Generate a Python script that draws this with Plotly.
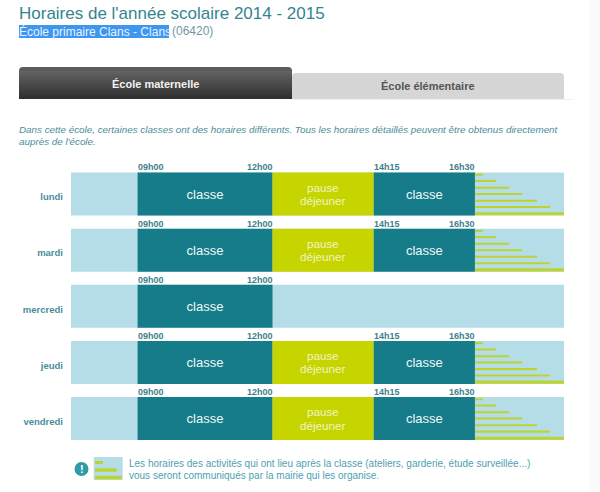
import plotly.graph_objects as go

# ---- data ----
days = ["lundi", "mardi", "mercredi", "jeudi", "vendredi"]
row_index = [0, 1, 2, 3, 4]
day_open = [7.52, 7.52, 7.52, 7.52, 7.52]
day_close = [18.48, 18.48, 18.48, 18.48, 18.48]
morning_start = [9.0, 9.0, 9.0, 9.0, 9.0]
morning_end = [12.0, 12.0, 12.0, 12.0, 12.0]
full_days = [0, 1, 3, 4]
lunch_start = [12.0, 12.0, 12.0, 12.0]
lunch_end = [14.25, 14.25, 14.25, 14.25]
afternoon_start = [14.25, 14.25, 14.25, 14.25]
afternoon_end = [16.5, 16.5, 16.5, 16.5]
step_offsets = [-0.344, -0.232, -0.112, 0.0, 0.119, 0.232, 0.351]
step_hours = [0.18, 0.47, 0.76, 1.05, 1.38, 1.67, 1.98]
time_labels_morning = ["09h00", "12h00"]
time_labels_afternoon = ["14h15", "16h30"]
class_label = "classe"
lunch_lines = ["pause", "déjeuner"]
title_text = "Horaires de l'année scolaire 2014 - 2015"
school_text = "École primaire Clans - Clans"
code_text = "(06420)"
tab_labels = ["École maternelle", "École élémentaire"]
intro_lines = ["Dans cette école, certaines classes ont des horaires différents. Tous les horaires détaillés peuvent être obtenus directement",
               "auprès de l'école."]
note_lines = ["Les horaires des activités qui ont lieu après la classe (ateliers, garderie, étude surveillée...)",
              "vous seront communiqués par la mairie qui les organise."]

W, H = 600, 492
FONT = "Liberation Sans, Arial, sans-serif"
LIGHT, TEAL, LIME = "#b5dde8", "#177c8a", "#c6d400"
STEP = "#bcd334"
BAR_W = 0.766

def px(x): return x / W
def py(y): return 1 - y / H

fig = go.Figure()
fig.add_trace(go.Bar(y=row_index, base=day_open, x=[c - o for c, o in zip(day_close, day_open)],
                     orientation="h", width=BAR_W, marker=dict(color=LIGHT, line_width=0), hoverinfo="skip"))
fig.add_trace(go.Bar(y=row_index, base=morning_start, x=[e - s for s, e in zip(morning_start, morning_end)],
                     orientation="h", width=BAR_W, marker=dict(color=TEAL, line_width=0),
                     text=[class_label] * 5, textposition="inside", insidetextanchor="middle", textangle=0,
                     textfont=dict(family=FONT, size=13, color="#eef7f8"), hoverinfo="skip"))
fig.add_trace(go.Bar(y=full_days, base=lunch_start, x=[e - s for s, e in zip(lunch_start, lunch_end)],
                     orientation="h", width=BAR_W, marker=dict(color=LIME, line_width=0), hoverinfo="skip"))
fig.add_trace(go.Bar(y=full_days, base=afternoon_start, x=[e - s for s, e in zip(afternoon_start, afternoon_end)],
                     orientation="h", width=BAR_W, marker=dict(color=TEAL, line_width=0),
                     text=[class_label] * 4, textposition="inside", insidetextanchor="middle", textangle=0,
                     textfont=dict(family=FONT, size=13, color="#eef7f8"), hoverinfo="skip"))
for k, (off, hrs) in enumerate(zip(step_offsets, step_hours)):
    fig.add_trace(go.Bar(y=[d + off for d in full_days], base=afternoon_end, x=[hrs] * 4,
                         orientation="h", width=0.055 if k == 6 else 0.036,
                         marker=dict(color=STEP, line_width=0), hoverinfo="skip"))

ann = []
def text(x, y, s, size=10, color="#555", anchor="left", **kw):
    ann.append(dict(x=px(x), y=py(y), xref="paper", yref="paper", text=s, showarrow=False, xanchor=anchor,
                    yanchor="middle", borderpad=0, borderwidth=0, align=anchor,
                    font=dict(family=FONT, size=size, color=color), **kw))

# hour labels above each row
for i in row_index:
    top = i - BAR_W / 2
    pairs = [(morning_start[i], time_labels_morning[0], "left"), (morning_end[i], time_labels_morning[1], "right")]
    if i in full_days:
        j = full_days.index(i)
        pairs += [(afternoon_start[j], time_labels_afternoon[0], "left"), (afternoon_end[j], time_labels_afternoon[1], "right")]
    for xv, lab, anc in pairs:
        ann.append(dict(x=xv, y=top, xref="x", yref="y", text=f"<b>{lab}</b>", showarrow=False, xanchor=anc,
                        yanchor="bottom", borderpad=0, borderwidth=0,
                        font=dict(family=FONT, size=9, color="#3d7f8c")))

# lunch captions, two tightly spaced lines centred in each bar
for j, d in enumerate(full_days):
    for line, shift in zip(lunch_lines, [7, -6.5]):
        ann.append(dict(x=(lunch_start[j] + lunch_end[j]) / 2, y=d, xref="x", yref="y", text=line, showarrow=False,
                        xanchor="center", yanchor="middle", yshift=shift, borderpad=0, borderwidth=0,
                        font=dict(family=FONT, size=11.7, color="#f0f5c0")))

text(19, 14, title_text, size=17, color="#34848f")
text(19, 31.5, school_text, size=12, color="#e8f2ff")
text(172, 31.5, code_text, size=12, color="#6f9aa3")
text(155, 84, f"<b>{tab_labels[0]}</b>", size=11, color="#f2f2f2", anchor="center")
text(428, 86, f"<b>{tab_labels[1]}</b>", size=11, color="#555555", anchor="center")
text(19, 129.5, f"<i>{intro_lines[0]}</i>", size=9.84, color="#4a8d99")
text(19, 141.5, f"<i>{intro_lines[1]}</i>", size=9.84, color="#4a8d99")
text(128.5, 463, note_lines[0], size=10, color="#4e9fb0")
text(128.5, 475, note_lines[1], size=10, color="#4e9fb0")
text(81.5, 469, "<b>!</b>", size=11, color="#ffffff", anchor="center")

shapes = []
def rect(x0, y0, x1, y1, color, below=True):
    shapes.append(dict(type="rect", xref="paper", yref="paper", x0=px(x0), x1=px(x1), y0=py(y0), y1=py(y1),
                       fillcolor=color, line_width=0, layer="below" if below else "above"))

rect(589, 0, 600, 492, "#fbfbfb")
rect(19, 25, 169, 38, "#3d97f0")
# tabs
def top_round(x0, y0, x1, y1, r, color):
    p = (f"M {px(x0)} {py(y1)} L {px(x0)} {py(y0 + r)} Q {px(x0)} {py(y0)} {px(x0 + r)} {py(y0)} "
         f"L {px(x1 - r)} {py(y0)} Q {px(x1)} {py(y0)} {px(x1)} {py(y0 + r)} L {px(x1)} {py(y1)} Z")
    shapes.append(dict(type="path", xref="paper", yref="paper", path=p, fillcolor=color, line_width=0, layer="below"))
top_round(292, 73, 564, 99, 4, "#d6d6d6")
rect(292, 99, 573, 100, "#f0f0f0")
top_round(19, 67, 292, 99, 4, "#5c5c5c")
for y in range(71, 99):
    t = (y - 71) / 27
    v = int(0x62 + (0x30 - 0x62) * t)
    rect(19, y, 292, y + 1, f"#{v:02x}{v:02x}{v:02x}")
# note icon
shapes.append(dict(type="circle", xref="paper", yref="paper", x0=px(74.5), x1=px(88.5), y0=py(476), y1=py(462),
                   fillcolor="#2f9aa8", line_width=0, layer="below"))
rect(93.7, 457, 122.7, 480, "#b5dde8")
rect(95, 461, 103, 464, "#bcd334")
rect(95, 468.3, 116.7, 471.7, "#bcd334")
rect(95, 475.7, 121.7, 479.3, "#bcd334")

fig.update_layout(
    width=W, height=H, margin=dict(l=0, r=0, t=0, b=0), paper_bgcolor="#ffffff", plot_bgcolor="rgba(0,0,0,0)",
    barmode="overlay", showlegend=False, annotations=ann, shapes=shapes, uniformtext=dict(mode=False),
    xaxis=dict(domain=[px(71), px(564)], range=[7.52, 18.48], visible=False, fixedrange=True),
    yaxis=dict(range=[(H - 194) / 56.15, -194 / 56.15], tickmode="array", tickvals=row_index,
               ticktext=[f"<b>{d}</b>" for d in days], showgrid=False, zeroline=False, showline=False, ticks="",
               tickfont=dict(family=FONT, size=9.5, color="#4a8d99"), ticklabelstandoff=7, ticklabelshift=-3,
               fixedrange=True, anchor="x"),
)
fig.write_html("out.html", config={"displayModeBar": False},
               post_script="document.body.style.margin='0';")
